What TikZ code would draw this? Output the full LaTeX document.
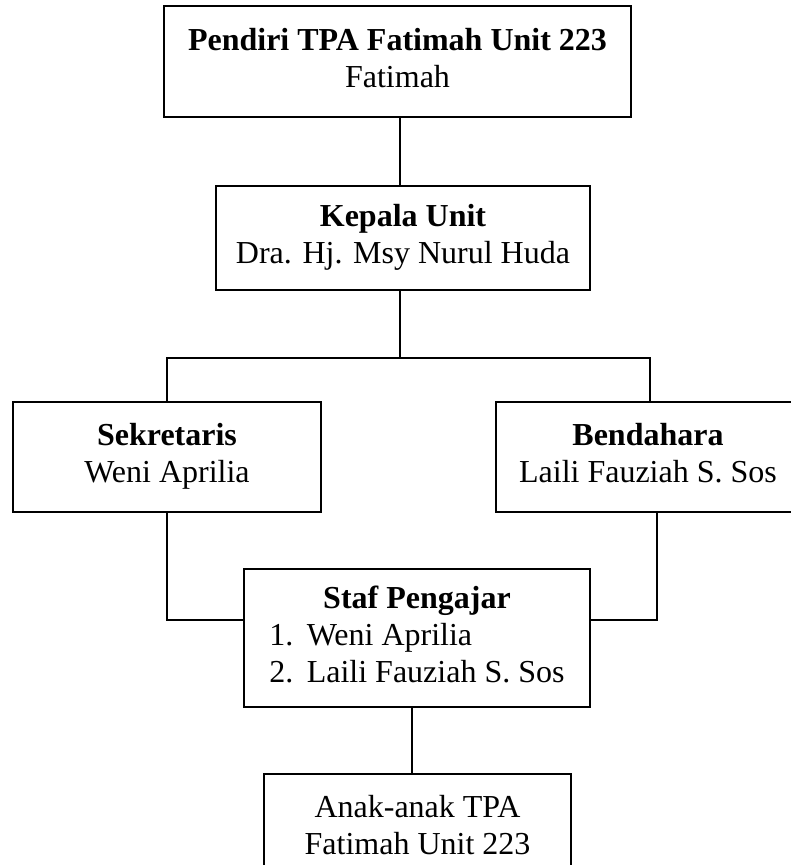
\documentclass[tikz,border=0pt]{standalone}
\usepackage{fontspec}
\setmainfont{Liberation Serif}
\usepackage{tikz}
\usetikzlibrary{positioning}

\begin{document}
\begin{tikzpicture}[x=0.75pt, y=-0.75pt, line width=1.5pt,
        kotak/.style={draw, align=center, inner sep=0pt,
            font=\fontsize{24}{27.75}\selectfont}]
    \useasboundingbox (0,0) rectangle (790,865);

    \node[kotak, minimum width=350.25pt, minimum height=83.25pt] (pendiri)    at (397.5, 61.5) {\strut\textbf{Pendiri TPA Fatimah Unit 223}\\ \strut Fatimah};
    \node[kotak, minimum width=280.5pt,  minimum height=78pt]    (kepala)     at (403, 238)    {\strut\textbf{Kepala Unit}\\ \strut Dra. Hj. Msy Nurul Huda};
    \node[kotak, minimum width=231pt,    minimum height=82.5pt]  (sekretaris) at (167, 457)    {\strut\textbf{Sekretaris}\\ \strut Weni Aprilia};
    \node[kotak, minimum width=228pt,    minimum height=82.5pt]  (bendahara)  at (648, 457)    {\strut\textbf{Bendahara}\\ \strut Laili Fauziah S. Sos};
    \node[kotak, minimum width=259.5pt,  minimum height=103.5pt] (staf)       at (417, 638)    {\strut\textbf{Staf Pengajar}\\
        \begin{tabular}[t]{@{}l@{\hspace{10pt}}l@{}}1. & Weni Aprilia\\ 2. & Laili Fauziah S. Sos\end{tabular}};
    \node[kotak, minimum width=230.25pt, minimum height=82.5pt]  (anak)       at (417.5, 829)  {\strut Anak-anak TPA\\ \strut Fatimah Unit 223};

    \draw ([xshift=-2.25pt]kepala.north |- pendiri.south) -- ([xshift=-2.25pt]kepala.north);
    \draw ([xshift=-2.25pt]kepala.south) -- ++(0,67) coordinate (cabang);
    \draw (sekretaris.north) |- (cabang) -| ([xshift=1.5pt]bendahara.north);
    \coordinate (gabung) at (0,620);
    \draw (sekretaris.south) |- (staf.west |- gabung);
    \draw ([xshift=6.75pt]bendahara.south) |- (staf.east |- gabung);
    \draw ([xshift=-3.75pt]staf.south) -- ([xshift=-3.75pt]staf.south |- anak.north);
\end{tikzpicture}
\end{document}
